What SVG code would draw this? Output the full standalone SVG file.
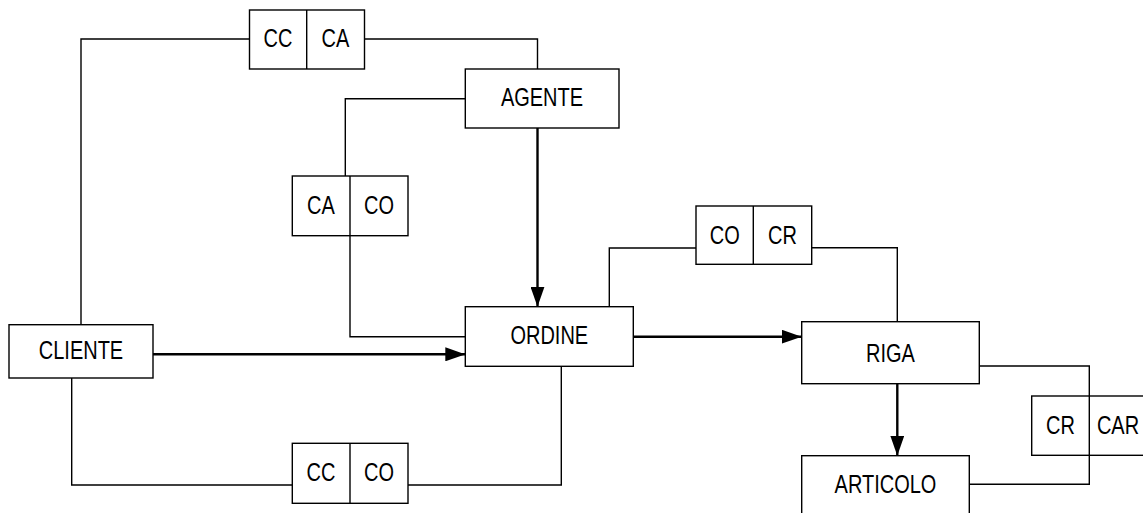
<svg xmlns="http://www.w3.org/2000/svg" width="1143" height="513" viewBox="0 0 1143 513">
<style>
.box{fill:#fff;stroke:#000;stroke-width:1.4}
.div{stroke:#000;stroke-width:1.4}
.ln{fill:none;stroke:#000;stroke-width:1.4}
.ar{fill:none;stroke:#000;stroke-width:2.4;marker-end:url(#ah)}
text{font-family:"Liberation Sans",Arial,sans-serif;font-size:25px;fill:#000;text-anchor:middle}
</style>
<defs>
<marker id="ah" viewBox="0 0 20 14" refX="20" refY="7" markerWidth="20" markerHeight="14" markerUnits="userSpaceOnUse" orient="auto">
<path d="M0,0 L20,7 L0,14 Z" fill="#000"/>
</marker>
</defs>
<rect width="1143" height="513" fill="#fff"/>
<g id="connectors">
<polyline class="ln" points="81,324.7 81,39 249.5,39"/>
<polyline class="ln" points="364.5,39 537.5,39 537.5,69"/>
<polyline class="ln" points="465.3,98.7 345.3,98.7 345.3,176"/>
<polyline class="ln" points="350,235.7 350,336.7 465.3,336.7"/>
<polyline class="ln" points="71.7,378 71.7,485 292.3,485"/>
<polyline class="ln" points="408,485 561.3,485 561.3,366.3"/>
<polyline class="ln" points="609.3,306.7 609.3,248 696,248"/>
<polyline class="ln" points="811.7,247.7 897.3,247.7 897.3,321.7"/>
<polyline class="ln" points="979.3,366 1089.3,366 1089.3,484.3 969.3,484.3"/>
<line class="ar" x1="153" y1="354.3" x2="465.3" y2="354.3"/>
<line class="ar" x1="537.5" y1="128" x2="537.5" y2="306.7"/>
<line class="ar" x1="633.3" y1="336.7" x2="801.7" y2="336.7"/>
<line class="ar" x1="897.3" y1="383.7" x2="897.3" y2="455.7"/>
</g>
<g id="key-cc-ca">
<rect class="box" x="249.5" y="10" width="115" height="59"/>
<line class="div" x1="306.7" y1="10" x2="306.7" y2="69"/>
<text transform="translate(278,47.3) scale(0.8,1)">CC</text>
<text transform="translate(335.5,47.3) scale(0.8,1)">CA</text>
</g>
<g id="agente">
<rect class="box" x="465.3" y="69" width="153.7" height="59"/>
<text transform="translate(542,105.7) scale(0.8,1)">AGENTE</text>
</g>
<g id="key-ca-co">
<rect class="box" x="292.3" y="176" width="115.7" height="59.7"/>
<line class="div" x1="350" y1="176" x2="350" y2="235.7"/>
<text transform="translate(321,213.5) scale(0.8,1)">CA</text>
<text transform="translate(379,213.5) scale(0.8,1)">CO</text>
</g>
<g id="cliente">
<rect class="box" x="9" y="324.7" width="144" height="53.3"/>
<text transform="translate(81,359.3) scale(0.8,1)">CLIENTE</text>
</g>
<g id="key-cc-co">
<rect class="box" x="292.3" y="443.3" width="115.7" height="60"/>
<line class="div" x1="350" y1="443.3" x2="350" y2="503.3"/>
<text transform="translate(321,481) scale(0.8,1)">CC</text>
<text transform="translate(379,481) scale(0.8,1)">CO</text>
</g>
<g id="ordine">
<rect class="box" x="465.3" y="306.7" width="168" height="59.6"/>
<text transform="translate(549.3,344) scale(0.8,1)">ORDINE</text>
</g>
<g id="key-co-cr">
<rect class="box" x="696" y="206" width="115.7" height="58.3"/>
<line class="div" x1="753.3" y1="206" x2="753.3" y2="264.3"/>
<text transform="translate(724.7,243.5) scale(0.8,1)">CO</text>
<text transform="translate(782.5,243.5) scale(0.8,1)">CR</text>
</g>
<g id="riga">
<rect class="box" x="801.7" y="321.7" width="177.6" height="62"/>
<text transform="translate(890.5,361.7) scale(0.8,1)">RIGA</text>
</g>
<g id="key-cr-car">
<rect class="box" x="1031.7" y="396" width="116" height="59.3"/>
<line class="div" x1="1089.3" y1="396" x2="1089.3" y2="455.3"/>
<text transform="translate(1060.5,433.7) scale(0.8,1)">CR</text>
<text transform="translate(1118,433.7) scale(0.8,1)">CAR</text>
</g>
<g id="articolo">
<rect class="box" x="801.7" y="455.7" width="167.6" height="62"/>
<text transform="translate(885.5,492.7) scale(0.8,1)">ARTICOLO</text>
</g>
</svg>
